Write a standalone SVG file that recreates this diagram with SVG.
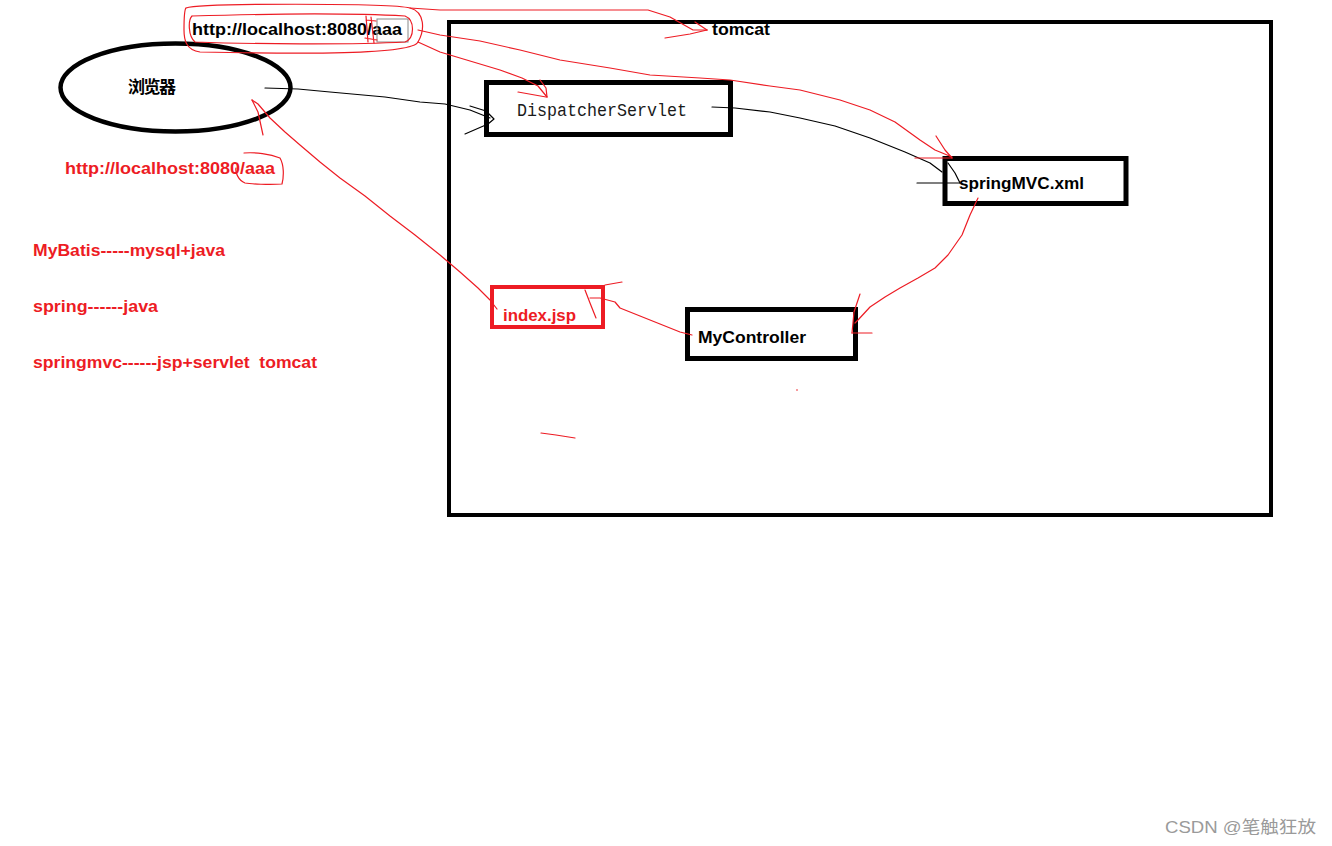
<svg xmlns="http://www.w3.org/2000/svg" width="1332" height="846" viewBox="0 0 1332 846">
<style>
.box{fill:none;stroke:#000;stroke-width:5}
.rbox{fill:none;stroke:#ed1c24;stroke-width:4}
.t{font-family:"Liberation Sans","Noto Sans CJK SC",sans-serif;font-weight:bold;font-size:17px;fill:#000}
.rt{font-family:"Liberation Sans","Noto Sans CJK SC",sans-serif;font-weight:bold;font-size:16px;fill:#ed1c24;white-space:pre}
.mono{font-family:"Liberation Mono",monospace;font-size:17.5px;fill:#1a1a1a}
.bl{fill:none;stroke:#000;stroke-width:1.2;stroke-linejoin:round;stroke-linecap:round}
.rl{fill:none;stroke:#ed1c24;stroke-width:1.2;stroke-linejoin:round;stroke-linecap:round}
</style>
<rect width="1332" height="846" fill="#fff"/>

<g id="tomcat">
<rect x="449" y="22" width="822" height="493" fill="none" stroke="#000" stroke-width="4"/>
<text class="t" x="712" y="35" textLength="58" lengthAdjust="spacingAndGlyphs">tomcat</text>
</g>

<g id="browser">
<ellipse cx="175.5" cy="87.5" rx="115" ry="44" fill="none" stroke="#000" stroke-width="4.5"/>
<text class="t" x="128" y="93" font-size="16" textLength="48">浏览器</text>
</g>

<g id="url-top">
<text class="t" x="192" y="35" textLength="210" lengthAdjust="spacingAndGlyphs">http://localhost:8080/aaa</text>
<rect x="377" y="19" width="31" height="23" fill="none" stroke="#888" stroke-width="1"/>
</g>

<g id="dispatcher">
<rect class="box" x="486.5" y="82.5" width="244" height="52"/>
<text class="mono" x="517" y="116" textLength="170" lengthAdjust="spacingAndGlyphs">DispatcherServlet</text>
</g>

<g id="springmvc">
<rect class="box" x="945" y="158.5" width="181" height="45"/>
<text class="t" x="959" y="189" textLength="125" lengthAdjust="spacingAndGlyphs">springMVC.xml</text>
</g>

<g id="mycontroller">
<rect class="box" x="687.5" y="309.5" width="168" height="49"/>
<text class="t" x="698" y="343" textLength="108" lengthAdjust="spacingAndGlyphs">MyController</text>
</g>

<g id="indexjsp">
<rect class="rbox" x="492" y="287" width="111" height="40"/>
<text class="rt" x="503" y="321" font-size="17" textLength="73" lengthAdjust="spacingAndGlyphs">index.jsp</text>
</g>

<g id="notes">
<text class="rt" x="65" y="174" textLength="210" lengthAdjust="spacingAndGlyphs">http://localhost:8080/aaa</text>
<text class="rt" x="33" y="256" textLength="192" lengthAdjust="spacingAndGlyphs">MyBatis-----mysql+java</text>
<text class="rt" x="33" y="312" textLength="125" lengthAdjust="spacingAndGlyphs">spring------java</text>
<text class="rt" x="33" y="368" textLength="284" lengthAdjust="spacingAndGlyphs" xml:space="preserve">springmvc------jsp+servlet  tomcat</text>
</g>

<g id="connectors">
<!-- browser -> DispatcherServlet -->
<path class="bl" d="M265,88 L298,89 L330,92 L385,97 L420,102 L445,104 L470,110 L490,118"/>
<path class="bl" d="M470,106 L486,111 L494,119 L488,124 L465,134"/>
<!-- DispatcherServlet -> springMVC -->
<path class="bl" d="M712,107 L735,108 L770,112 L800,118 L835,126 L870,138 L905,152 L930,163 L942,172"/>
<path class="bl" d="M948,163 L955,173 L960,183"/>
<path class="bl" d="M917,183 L960,183"/>
<!-- red: URL -> tomcat -->
<path class="rl" d="M410,8 L440,10 L648,10 L670,17 L693,30 L707,30"/>
<path class="rl" d="M665,38 L690,34 L707,30"/>
<path class="rl" d="M695,22 L707,30"/>
<!-- red: URL -> DispatcherServlet -->
<path class="rl" d="M418,42 L440,52 L470,61 L500,70 L522,78 L538,86 L547,97"/>
<path class="rl" d="M518,92 L546,97"/>
<path class="rl" d="M540,80 L546,88 L547,97"/>
<!-- red: URL -> springMVC -->
<path class="rl" d="M418,30 L440,35 L480,41 L520,50 L560,60 L610,68 L650,75 L700,78 L730,80 L770,86 L800,90 L840,100 L870,110 L895,122 L920,140 L935,150 L952,157"/>
<path class="rl" d="M936,136 L945,150 L952,158"/>
<path class="rl" d="M915,158 L952,158"/>
<!-- red: springMVC -> MyController -->
<path class="rl" d="M978,198 L970,215 L962,235 L948,255 L935,268 L918,278 L900,288 L885,297 L870,307 L858,320 L855,323"/>
<path class="rl" d="M860,294 L854,312 L852,333"/>
<path class="rl" d="M852,333 L872,333"/>
<!-- red: MyController -> index.jsp -->
<path class="rl" d="M692,335 L680,332 L660,324 L640,316 L620,308 L615,302 L600,298 L590,298"/>
<path class="rl" d="M585,290 L590,303 L596,318"/>
<path class="rl" d="M605,285 L622,282"/>
<!-- red: index.jsp -> browser -->
<path class="rl" d="M497,309 L490,300 L478,288 L460,272 L440,255 L415,235 L390,216 L365,196 L340,178 L320,162 L300,145 L285,132 L270,118 L258,104 L252,100"/>
<path class="rl" d="M252,100 L258,112 L263,135"/>
<!-- red scribbles around top URL -->
<path class="rl" d="M186,8 C200,3 390,3 410,8 C425,12 425,30 418,42 C412,55 300,54 200,52 C186,50 184,40 184,30 C184,18 184,10 186,8"/>
<path class="rl" d="M192,16 C260,14 350,13 405,16 C415,20 415,38 405,42 C350,45 250,44 195,42 C188,36 188,20 192,16"/>
<path class="rl" d="M366,16 L368,42 M371,17 L374,43 M366,20 L376,21 M365,38 L377,40"/>
<!-- red scribble around aaa bottom -->
<path class="rl" d="M244,153 C255,152 270,154 280,158 C284,165 284,176 282,184 C270,185 250,184 245,183 C238,180 235,172 236,168"/>
<!-- stray marks -->
<path class="rl" d="M541,433 L556,435 L575,438"/>
<circle cx="797" cy="390" r="0.8" fill="#ed1c24"/>
</g>

<text x="1165" y="833" font-family="Liberation Sans,'Noto Sans CJK SC',sans-serif" font-size="17" fill="#9a9a9a" textLength="151" lengthAdjust="spacingAndGlyphs">CSDN @笔触狂放</text>
</svg>
